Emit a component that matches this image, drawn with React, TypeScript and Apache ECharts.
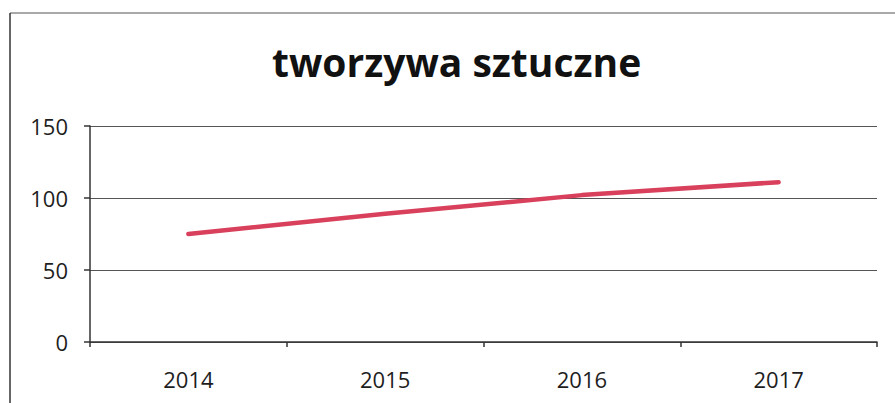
import React, { useEffect, useRef } from "react";
import * as echarts from "echarts";

const categories = ["2014", "2015", "2016", "2017"];
const values = [75, 89, 102, 111];
const yTicks = [0, 50, 100, 150];
const titleText = "tworzywa sztuczne";

export default function App() {
  const ref = useRef<HTMLDivElement>(null);
  useEffect(() => {
    if (!ref.current) return;
    const chart = echarts.init(ref.current, null, { renderer: "svg" });
    chart.setOption({
      animation: false,
      backgroundColor: "#ffffff",
      title: {
        text: titleText,
        left: 267,
        top: 37,
        textStyle: {
          fontFamily: "Open Sans",
          fontWeight: "bold",
          fontSize: 39,
          color: "#111",
        },
      },
      grid: { left: 90, right: 18, top: 126, bottom: 61 },
      xAxis: {
        type: "category",
        data: categories,
        boundaryGap: true,
        axisLine: { show: true, lineStyle: { color: "#333", width: 1.5 } },
        axisTick: { show: true, length: 5, lineStyle: { color: "#333", width: 1.5 } },
        axisLabel: {
          margin: 26,
          fontFamily: "Open Sans",
          fontSize: 22,
          color: "#1e1e1e",
        },
        splitLine: { show: false },
      },
      yAxis: {
        type: "value",
        min: yTicks[0],
        max: yTicks[yTicks.length - 1],
        interval: 50,
        axisLine: { show: true, lineStyle: { color: "#333", width: 1.5 } },
        axisTick: { show: true, length: 6, lineStyle: { color: "#333", width: 1.5 } },
        axisLabel: {
          margin: 22,
          fontFamily: "Open Sans",
          fontSize: 22,
          color: "#1e1e1e",
        },
        splitLine: { show: true, lineStyle: { color: "#555", width: 1 } },
      },
      series: [
        {
          type: "line",
          data: values,
          symbol: "none",
          lineStyle: { color: "#d8405c", width: 4.5, cap: "round" },
        },
      ],
      graphic: [
        {
          type: "line",
          shape: { x1: 10, y1: 13, x2: 895, y2: 13 },
          style: { stroke: "#555", lineWidth: 1.2 },
        },
        {
          type: "line",
          shape: { x1: 10, y1: 13, x2: 10, y2: 403 },
          style: { stroke: "#333", lineWidth: 1.5 },
        },
      ],
    });
    return () => chart.dispose();
  }, []);
  return (
    <div
      ref={ref}
      style={{ position: "absolute", left: 0, top: 0, width: 895, height: 403 }}
    />
  );
}
